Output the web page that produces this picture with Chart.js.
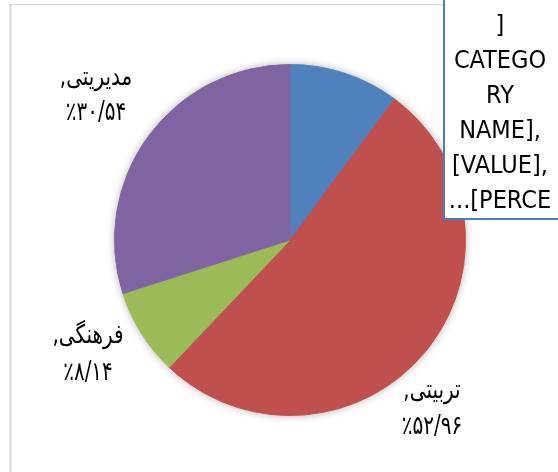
<!DOCTYPE html>
<html>
<head>
<meta charset="utf-8">
<script src="https://cdn.jsdelivr.net/npm/chart.js@4"></script>
<style>
    html, body { margin: 0; padding: 0; background: #ffffff; }
    #pieChart { display: block; }
</style>
</head>
<body>
<canvas id="pieChart" width="558" height="472"></canvas>
<script>
//################### Chart data ###################
const categories = ['آموزشی', 'تربیتی', 'فرهنگی', 'مدیریتی'];
const values = [10.36, 52.96, 8.14, 30.54];
const sliceColors = ['#4F81BD', '#C0504D', '#9BBB59', '#8064A2'];
// the first slice's label is a broken placeholder in the original
const brokenLabel = [']', 'CATEGO', 'RY', 'NAME],', '[VALUE],', '...[PERCE'];

// label anchors: x, y of name line, y of percent line (null = boxed label)
const labelSpots = [null, [432, 391, 427], [88, 336, 373], [96, 78, 113]];

const faDigits = '۰۱۲۳۴۵۶۷۸۹';
function toFa(v) {
    return v.toFixed(2).replace(/\d/g, d => faDigits[d]).replace('.', '/');
}

// draw text a bit taller than the font gives (Arabic glyphs of DejaVu are short)
function tallText(ctx, text, x, y, dir) {
    ctx.save();
    ctx.translate(x, y);
    ctx.scale(1, 1.3);
    ctx.direction = dir;
    ctx.fillText(text, 0, 0);
    ctx.restore();
}

//################### Frame, shadow and labels ###################
const piePlugin = {
    id: 'pieExtras',
    beforeDraw(chart) {
        const ctx = chart.ctx;
        ctx.save();
        ctx.strokeStyle = '#d6d6d6';
        ctx.lineWidth = 1;
        ctx.beginPath();
        ctx.moveTo(10, 4.5);
        ctx.lineTo(558, 4.5);
        ctx.stroke();
        ctx.lineWidth = 2;
        ctx.beginPath();
        ctx.moveTo(10.5, 4);
        ctx.lineTo(10.5, 472);
        ctx.stroke();
        ctx.restore();
    },
    beforeDatasetsDraw(chart) {
        const arc = chart.getDatasetMeta(0).data[0];
        const ctx = chart.ctx;
        ctx.save();
        ctx.shadowColor = 'rgba(0, 0, 0, 0.4)';
        ctx.shadowBlur = 10;
        ctx.fillStyle = '#ffffff';
        ctx.beginPath();
        ctx.arc(arc.x, arc.y, arc.outerRadius - 1, 0, Math.PI * 2);
        ctx.fill();
        ctx.restore();
    },
    afterDatasetsDraw(chart) {
        const ctx = chart.ctx;
        ctx.save();
        ctx.fillStyle = '#000000';
        ctx.textAlign = 'center';
        ctx.textBaseline = 'middle';
        ctx.font = '20px "DejaVu Sans"';
        labelSpots.forEach((spot, i) => {
            if (!spot) return;
            tallText(ctx, categories[i] + ',', spot[0], spot[1], 'rtl');
            tallText(ctx, '٪' + toFa(values[i]), spot[0], spot[2], 'ltr');
        });

        // boxed placeholder label of the first slice
        ctx.fillStyle = '#ffffff';
        ctx.fillRect(444, -5, 130, 224);
        ctx.strokeStyle = '#4A7EBB';
        ctx.lineWidth = 2;
        ctx.strokeRect(444, -5, 130, 224);
        ctx.fillStyle = '#000000';
        ctx.direction = 'ltr';
        ctx.font = '25px "Liberation Sans Narrow", "DejaVu Sans Condensed", Roboto, sans-serif';
        brokenLabel.forEach((line, k) => {
            ctx.fillText(line, 500, 26 + k * 35);
        });
        ctx.restore();
    }
};

//################### Plot pie chart ###################
function createPieChart(label_set, data_set) {
    const pieCtx = document.getElementById('pieChart').getContext('2d');
    new Chart(pieCtx, {
        type: 'pie',
        data: {
            labels: label_set,
            datasets: [{
                data: data_set,
                backgroundColor: sliceColors,
                borderColor: sliceColors,
                borderWidth: 1,
            }]
        },
        options: {
            responsive: false,
            animation: false,
            layout: {
                padding: { left: 114, right: 92, top: 64, bottom: 56 }
            },
            plugins: {
                legend: { display: false },
                tooltip: { enabled: false },
                title: { display: false }
            }
        },
        plugins: [piePlugin]
    });
}

createPieChart(categories, values);
</script>
</body>
</html>
